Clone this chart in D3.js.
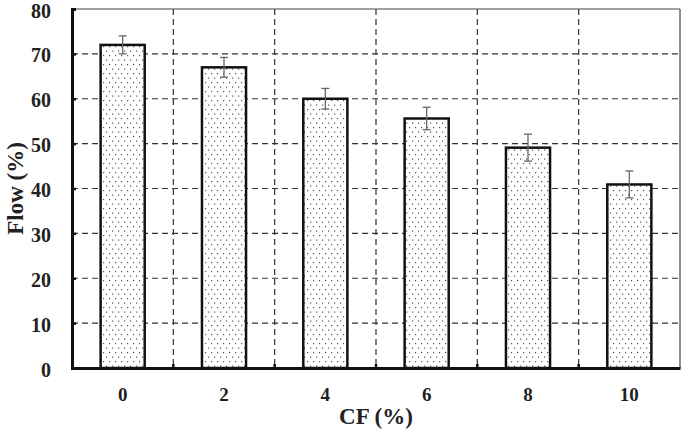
<!DOCTYPE html>
<html lang="en">
<head>
<meta charset="UTF-8">
<title>Flow vs CF</title>
<script src="https://d3js.org/d3.v7.min.js"></script>
<style>
    body { margin: 0; background: #fff; }
    text { font-family: "Liberation Serif", "Times New Roman", serif; font-weight: bold; fill: #222; }
</style>
</head>
<body>
<svg width="685" height="432"></svg>
<script>
    // data
    const categories = ["0", "2", "4", "6", "8", "10"];
    const flow = [72, 67, 60, 55.6, 49.1, 40.9];
    const flowErr = [2, 2.2, 2.3, 2.5, 3, 3];
    const yTicks = [0, 10, 20, 30, 40, 50, 60, 70, 80];

    const svg = d3.select("svg");
    const margin = {top: 9, right: 5, bottom: 64, left: 72};
    const width = 685 - margin.left - margin.right,
          height = 432 - margin.top - margin.bottom;

    // dotted fill
    const pat = svg.append("defs").append("pattern")
        .attr("id", "dots")
        .attr("patternUnits", "userSpaceOnUse")
        .attr("width", 6).attr("height", 9);
    pat.append("rect").attr("width", 6).attr("height", 9).attr("fill", "#fff");
    pat.append("rect").attr("x", 1).attr("y", 1).attr("width", 1.2).attr("height", 1.2).attr("fill", "#555");
    pat.append("rect").attr("x", 4).attr("y", 5.5).attr("width", 1.2).attr("height", 1.2).attr("fill", "#555");

    const g = svg.append("g")
        .attr("transform", "translate(" + margin.left + "," + margin.top + ")");

    const x = d3.scaleBand().domain(categories).range([0, width])
        .paddingInner(0.565).paddingOuter(0.2825);
    const y = d3.scaleLinear().domain([0, 80]).range([height, 0]);

    // boundary between category i-1 and i
    const gap = (x.step() - x.bandwidth()) / 2;
    const boundary = d => x(d) - gap;

    // horizontal grid
    g.selectAll(".hgrid")
        .data(yTicks.slice(1, -1))
        .enter().append("line")
        .attr("x1", 0).attr("x2", width)
        .attr("y1", d => y(d)).attr("y2", d => y(d))
        .attr("stroke", "#333").attr("stroke-width", 1.2)
        .attr("stroke-dasharray", "6,4");

    // vertical grid at category boundaries
    g.selectAll(".vgrid")
        .data(categories.slice(1))
        .enter().append("line")
        .attr("x1", boundary).attr("x2", boundary)
        .attr("y1", 0).attr("y2", height)
        .attr("stroke", "#333").attr("stroke-width", 1.2)
        .attr("stroke-dasharray", "6,4");

    // top and right frame
    g.append("line").attr("x1", 0).attr("x2", width).attr("y1", 0).attr("y2", 0)
        .attr("stroke", "#444").attr("stroke-width", 1.2);
    g.append("line").attr("x1", width).attr("x2", width).attr("y1", 0).attr("y2", height)
        .attr("stroke", "#444").attr("stroke-width", 1.2);

    // bars
    g.selectAll(".bar")
        .data(flow)
        .enter().append("rect")
        .attr("class", "bar")
        .attr("x", (d, i) => x(categories[i]))
        .attr("y", d => y(d))
        .attr("width", x.bandwidth())
        .attr("height", d => height - y(d))
        .attr("fill", "url(#dots)")
        .attr("stroke", "#111")
        .attr("stroke-width", 2.5);

    // error bars
    const eb = g.selectAll(".err")
        .data(flow)
        .enter().append("g")
        .attr("transform", (d, i) => "translate(" + (x(categories[i]) + x.bandwidth() / 2) + ",0)");
    eb.append("line")
        .attr("y1", (d, i) => y(d + flowErr[i])).attr("y2", (d, i) => y(d - flowErr[i]))
        .attr("stroke", "#666").attr("stroke-width", 1.3);
    eb.append("line")
        .attr("x1", -4).attr("x2", 4)
        .attr("y1", (d, i) => y(d + flowErr[i])).attr("y2", (d, i) => y(d + flowErr[i]))
        .attr("stroke", "#666").attr("stroke-width", 1.3);
    eb.append("line")
        .attr("x1", -4).attr("x2", 4)
        .attr("y1", (d, i) => y(d - flowErr[i])).attr("y2", (d, i) => y(d - flowErr[i]))
        .attr("stroke", "#666").attr("stroke-width", 1.3);

    // y axis
    const yAxis = g.append("g")
        .call(d3.axisLeft(y).tickValues(yTicks).tickSize(-4).tickPadding(21));
    yAxis.select(".domain").attr("stroke", "#111").attr("stroke-width", 3);
    yAxis.selectAll(".tick line").attr("stroke", "#111").attr("stroke-width", 2.5);
    yAxis.selectAll("text").style("font-size", "20px").attr("dy", "0.4em")
        .style("font-family", "Liberation Serif").style("font-weight", "bold").attr("fill", "#222");

    // x axis
    const xAxis = g.append("g")
        .attr("transform", "translate(0," + height + ")")
        .call(d3.axisBottom(x).tickSize(0).tickPadding(20));
    xAxis.select(".domain").attr("stroke", "#111").attr("stroke-width", 3);
    xAxis.selectAll("text").style("font-size", "19px")
        .style("font-family", "Liberation Serif").style("font-weight", "bold").attr("fill", "#222");
    // small ticks at boundaries
    xAxis.selectAll(".btick")
        .data(categories.slice(1))
        .enter().append("line")
        .attr("x1", boundary).attr("x2", boundary)
        .attr("y1", 0).attr("y2", -4)
        .attr("stroke", "#111").attr("stroke-width", 2.5);

    // axis titles
    svg.append("text")
        .attr("x", margin.left + width / 2)
        .attr("y", 424)
        .attr("text-anchor", "middle")
        .style("font-size", "23px")
        .text("CF (%)");

    svg.append("text")
        .attr("transform", "rotate(-90)")
        .attr("x", -(margin.top + height / 2))
        .attr("y", 23)
        .attr("text-anchor", "middle")
        .style("font-size", "23px")
        .text("Flow (%)");
</script>
</body>
</html>
